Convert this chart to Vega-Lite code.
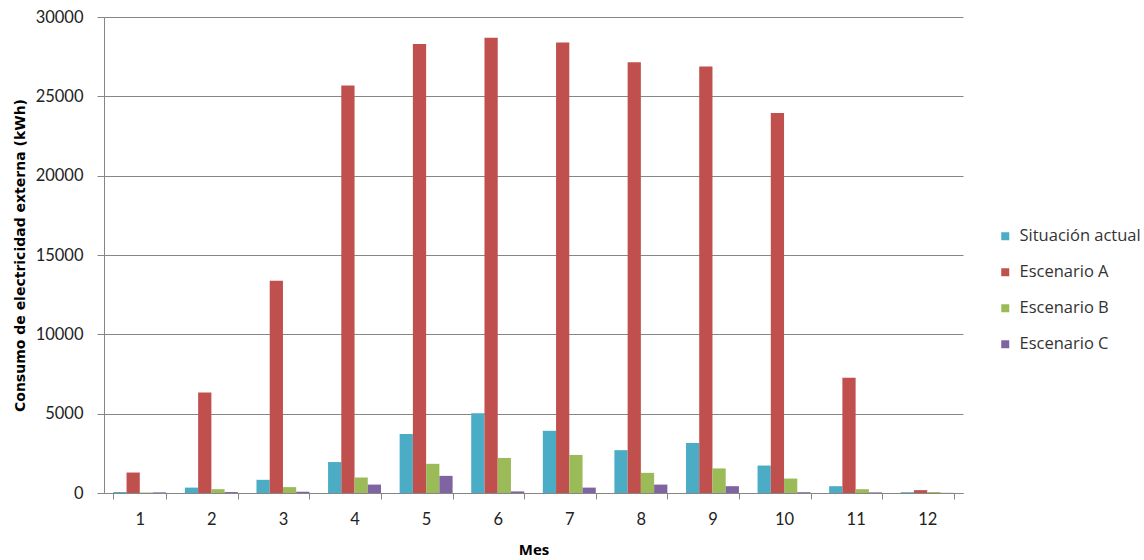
{
  "$schema": "https://vega.github.io/schema/vega-lite/v6.json",
  "width": 859,
  "height": 476,
  "autosize": "none",
  "padding": {"left": 104, "top": 17, "right": 181, "bottom": 67},
  "background": "white",
  "data": {"values": [
    {"mes": 1, "serie": "Situación actual", "valor": 60},
    {"mes": 1, "serie": "Escenario A", "valor": 1290},
    {"mes": 1, "serie": "Escenario B", "valor": 30},
    {"mes": 1, "serie": "Escenario C", "valor": 40},
    {"mes": 2, "serie": "Situación actual", "valor": 340},
    {"mes": 2, "serie": "Escenario A", "valor": 6340},
    {"mes": 2, "serie": "Escenario B", "valor": 240},
    {"mes": 2, "serie": "Escenario C", "valor": 60},
    {"mes": 3, "serie": "Situación actual", "valor": 830},
    {"mes": 3, "serie": "Escenario A", "valor": 13380},
    {"mes": 3, "serie": "Escenario B", "valor": 370},
    {"mes": 3, "serie": "Escenario C", "valor": 80},
    {"mes": 4, "serie": "Situación actual", "valor": 1950},
    {"mes": 4, "serie": "Escenario A", "valor": 25680},
    {"mes": 4, "serie": "Escenario B", "valor": 980},
    {"mes": 4, "serie": "Escenario C", "valor": 530},
    {"mes": 5, "serie": "Situación actual", "valor": 3720},
    {"mes": 5, "serie": "Escenario A", "valor": 28300},
    {"mes": 5, "serie": "Escenario B", "valor": 1840},
    {"mes": 5, "serie": "Escenario C", "valor": 1080},
    {"mes": 6, "serie": "Situación actual", "valor": 5030},
    {"mes": 6, "serie": "Escenario A", "valor": 28700},
    {"mes": 6, "serie": "Escenario B", "valor": 2210},
    {"mes": 6, "serie": "Escenario C", "valor": 100},
    {"mes": 7, "serie": "Situación actual", "valor": 3920},
    {"mes": 7, "serie": "Escenario A", "valor": 28400},
    {"mes": 7, "serie": "Escenario B", "valor": 2400},
    {"mes": 7, "serie": "Escenario C", "valor": 340},
    {"mes": 8, "serie": "Situación actual", "valor": 2700},
    {"mes": 8, "serie": "Escenario A", "valor": 27150},
    {"mes": 8, "serie": "Escenario B", "valor": 1270},
    {"mes": 8, "serie": "Escenario C", "valor": 530},
    {"mes": 9, "serie": "Situación actual", "valor": 3150},
    {"mes": 9, "serie": "Escenario A", "valor": 26880},
    {"mes": 9, "serie": "Escenario B", "valor": 1550},
    {"mes": 9, "serie": "Escenario C", "valor": 430},
    {"mes": 10, "serie": "Situación actual", "valor": 1730},
    {"mes": 10, "serie": "Escenario A", "valor": 23950},
    {"mes": 10, "serie": "Escenario B", "valor": 910},
    {"mes": 10, "serie": "Escenario C", "valor": 50},
    {"mes": 11, "serie": "Situación actual", "valor": 430},
    {"mes": 11, "serie": "Escenario A", "valor": 7260},
    {"mes": 11, "serie": "Escenario B", "valor": 240},
    {"mes": 11, "serie": "Escenario C", "valor": 40},
    {"mes": 12, "serie": "Situación actual", "valor": 50},
    {"mes": 12, "serie": "Escenario A", "valor": 180},
    {"mes": 12, "serie": "Escenario B", "valor": 60},
    {"mes": 12, "serie": "Escenario C", "valor": 10}
  ]},
  "config": {
    "view": {"stroke": null},
    "font": "Lato"
  },
  "mark": {"type": "bar"},
  "encoding": {
    "x": {
      "field": "mes",
      "type": "ordinal",
      "scale": {"paddingInner": 0.26, "paddingOuter": 0.13},
      "axis": {
        "title": "Mes",
        "titleFont": "Open Sans",
        "titleFontSize": 15,
        "titleFontWeight": "bold",
        "titleColor": "#000",
        "titlePadding": 15,
        "labelAngle": 0,
        "labelFont": "Lato",
        "labelFontSize": 16.5,
        "labelColor": "#222",
        "labelPadding": 12,
        "tickBand": "extent",
        "tickColor": "#868686",
        "tickSize": 6,
        "domainColor": "#868686",
        "grid": false
      }
    },
    "xOffset": {
      "field": "serie",
      "type": "nominal",
      "sort": ["Situación actual", "Escenario A", "Escenario B", "Escenario C"],
      "scale": {"paddingInner": 0, "paddingOuter": 0}
    },
    "y": {
      "field": "valor",
      "type": "quantitative",
      "scale": {"domain": [0, 30000], "nice": false},
      "axis": {
        "title": "Consumo de electricidad externa (kWh)",
        "titleFont": "DejaVu Sans",
        "titleFontSize": 14,
        "titleFontWeight": "bold",
        "titleColor": "#000",
        "titlePadding": 8,
        "values": [0, 5000, 10000, 15000, 20000, 25000, 30000],
        "format": "d",
        "labelFont": "Lato",
        "labelFontSize": 16.5,
        "labelColor": "#222",
        "labelPadding": 14,
        "tickColor": "#868686",
        "tickSize": 7,
        "domainColor": "#868686",
        "grid": true,
        "gridColor": "#868686",
        "gridWidth": 1
      }
    },
    "color": {
      "field": "serie",
      "type": "nominal",
      "sort": ["Situación actual", "Escenario A", "Escenario B", "Escenario C"],
      "scale": {
        "domain": ["Situación actual", "Escenario A", "Escenario B", "Escenario C"],
        "range": ["#4BACC6", "#C0504D", "#9BBB59", "#8064A2"]
      },
      "legend": {
        "title": null,
        "orient": "none",
        "legendX": 893,
        "legendY": 211,
        "symbolType": "square",
        "symbolSize": 64,
        "symbolStrokeWidth": 0,
        "labelFont": "Open Sans",
        "labelFontSize": 16.5,
        "labelColor": "#333",
        "labelOffset": 6,
        "rowPadding": 19
      }
    }
  }
}
